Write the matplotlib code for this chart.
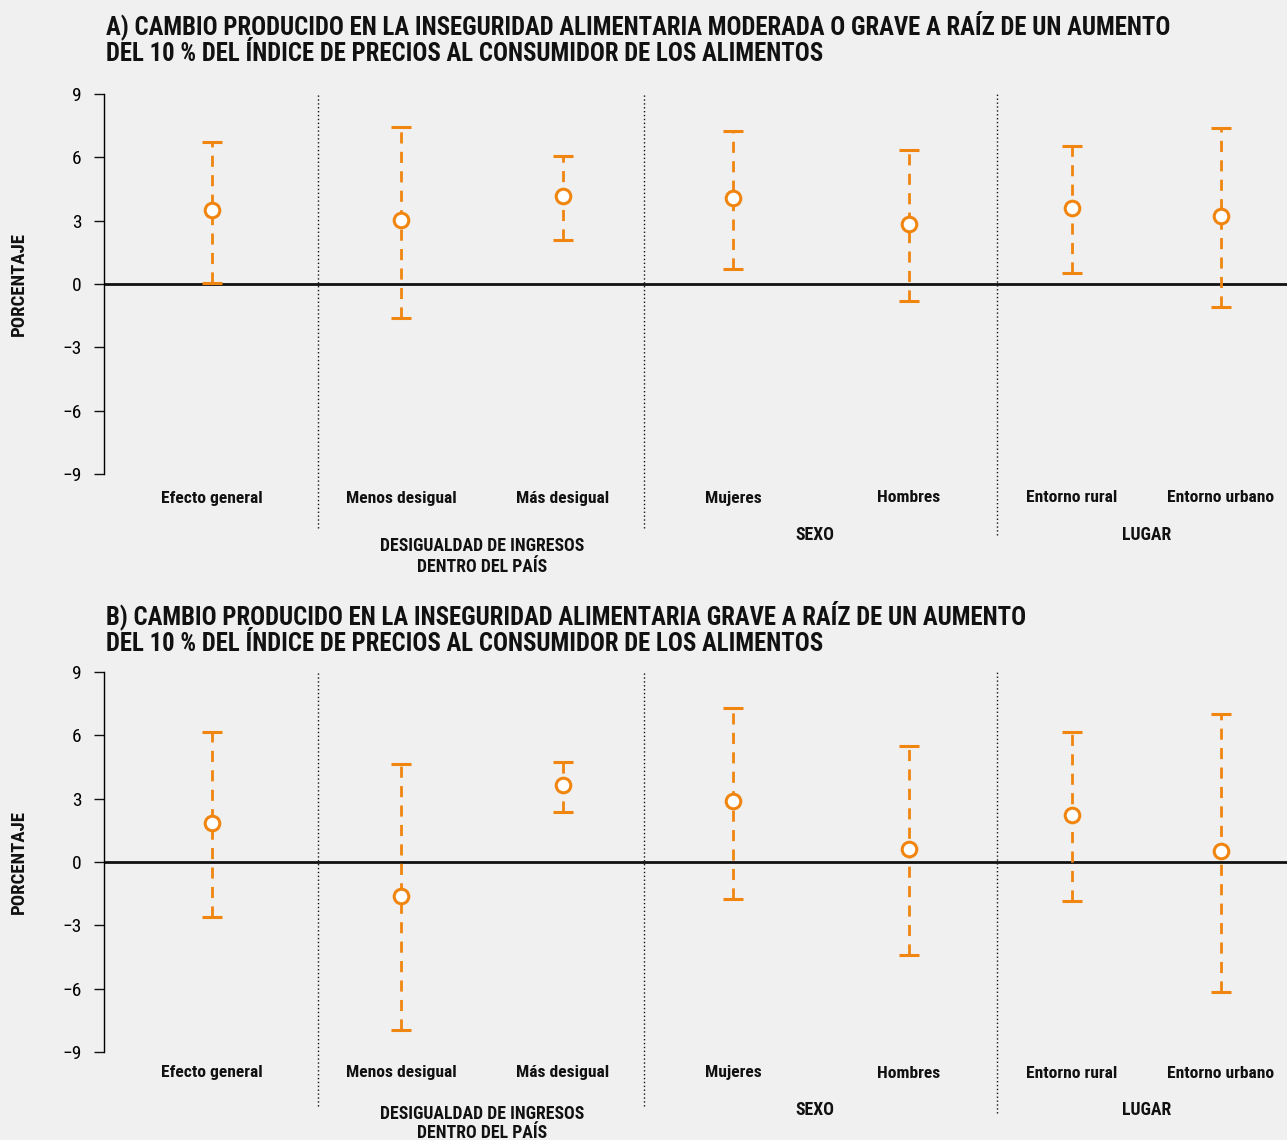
import matplotlib.pyplot as plt
from matplotlib.transforms import blended_transform_factory

BG = '#f0f0f0'
ORANGE = '#f08510'
DARK = '#111111'
FONT = ['Liberation Sans Narrow', 'DejaVu Sans Condensed', 'Roboto Condensed',
        'Open Sans Condensed', 'DejaVu Sans']

categories = ['Efecto general', 'Menos desigual', 'Más desigual',
              'Mujeres', 'Hombres', 'Entorno rural', 'Entorno urbano']
groups = ['DESIGUALDAD DE INGRESOS\nDENTRO DEL PAÍS', 'SEXO', 'LUGAR']

# moderate or severe food insecurity
mod_est = [3.5, 3.03, 4.17, 4.08, 2.84, 3.6, 3.22]
mod_low = [0.05, -1.61, 2.08, 0.71, -0.81, 0.52, -1.09]
mod_high = [6.73, 7.44, 6.07, 7.25, 6.35, 6.54, 7.39]

# severe food insecurity
sev_est = [1.85, -1.61, 3.65, 2.89, 0.62, 2.23, 0.52]
sev_low = [-2.61, -7.96, 2.37, -1.75, -4.41, -1.85, -6.16]
sev_high = [6.16, 4.64, 4.74, 7.3, 5.5, 6.16, 7.01]

titles = [
    'A) CAMBIO PRODUCIDO EN LA INSEGURIDAD ALIMENTARIA MODERADA O GRAVE A RAÍZ DE UN AUMENTO\n'
    'DEL 10 % DEL ÍNDICE DE PRECIOS AL CONSUMIDOR DE LOS ALIMENTOS',
    'B) CAMBIO PRODUCIDO EN LA INSEGURIDAD ALIMENTARIA GRAVE A RAÍZ DE UN AUMENTO\n'
    'DEL 10 % DEL ÍNDICE DE PRECIOS AL CONSUMIDOR DE LOS ALIMENTOS',
]

# layout (pixel units along the x axis)
XMIN, XMAX = 104, 1287
xpos = [212, 401, 563, 733, 909, 1072, 1221]
dividers = [318, 644, 997]
divider_bottom = [-0.143, -0.143, -0.16]
group_x = [482, 815, 1147]

W, H = 1287, 1140
AX_H = 380
fig = plt.figure(figsize=(W / 100, H / 100), dpi=100, facecolor=BG)


def panel(top, est, low, high, title, title_off, cat_off, grp_off, two_line_off, two_line_sp):
    ax = fig.add_axes([XMIN / W, 1 - (top + AX_H) / H, (XMAX - XMIN) / W, AX_H / H])
    ax.set_facecolor(BG)
    ax.set_xlim(XMIN, XMAX)
    ax.set_ylim(-9, 9)
    ax.set_yticks([-9, -6, -3, 0, 3, 6, 9])
    ax.set_yticklabels(['−9', '−6', '−3', '0', '3', '6', '9'], family=FONT, fontsize=14)
    ax.tick_params(axis='y', length=7, width=1, color=DARK, pad=9)
    ax.set_xticks([])
    for sp in ['top', 'right', 'bottom']:
        ax.spines[sp].set_visible(False)
    ax.spines['left'].set_linewidth(1)
    ax.axhline(0, color=DARK, lw=2)

    for d, yb in zip(dividers, divider_bottom):
        ax.axvline(d, ymin=yb, ymax=1, color=DARK, lw=1, ls=(0, (1, 1.8)), clip_on=False)

    yerr = [[e - l for e, l in zip(est, low)], [h - e for e, h in zip(est, high)]]
    eb = ax.errorbar(xpos, est, yerr=yerr, fmt='o', color=ORANGE, ecolor=ORANGE,
                     elinewidth=2, capsize=7.5, capthick=2.2, ms=10.5, mew=2.2,
                     mfc='white', mec=ORANGE, zorder=3)
    eb[2][0].set_linestyle((0, (4, 3)))

    tr = blended_transform_factory(ax.transData, ax.transAxes)
    for x, c in zip(xpos, categories):
        ax.text(x, -cat_off / AX_H, c, transform=tr, ha='center', va='center',
                family=FONT, fontsize=12.6, fontweight='bold', color=DARK)
    for x, g in zip(group_x, groups):
        off = two_line_off if '\n' in g else grp_off
        ax.text(x, -off / AX_H, g, transform=tr, ha='center', va='center',
                family=FONT, fontsize=12.8, fontweight='bold', color=DARK,
                linespacing=two_line_sp)

    ax.set_ylabel('PORCENTAJE', family=FONT, fontsize=13.5, fontweight='bold',
                  color=DARK)
    ax.yaxis.set_label_coords(-76 / (XMAX - XMIN), 0.5)

    fig.text(106 / W, 1 - (top - title_off) / H, title, ha='left', va='top',
             family=FONT, fontsize=17.8, fontweight='bold', color=DARK,
             linespacing=1.1)
    return ax


panel(94, mod_est, mod_low, mod_high, titles[0], 84, 24, 61, 82.5, 1.23)
panel(672, sev_est, sev_low, sev_high, titles[1], 72, 21, 58, 71.5, 1.12)

fig.savefig('out.png', dpi=100, facecolor=BG)
